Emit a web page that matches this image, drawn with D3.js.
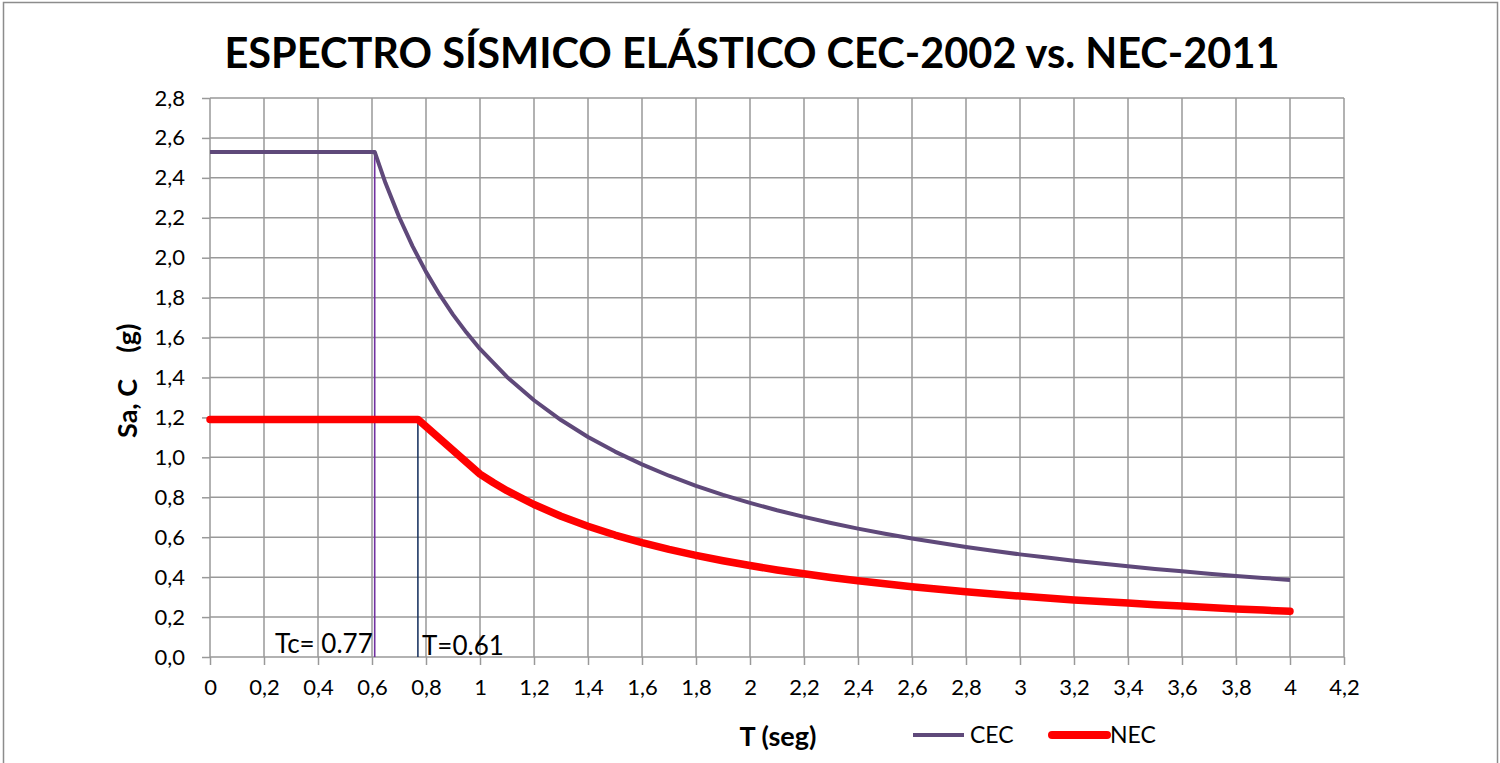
<!DOCTYPE html>
<html>
<head>
<meta charset="utf-8">
<script src="https://cdn.jsdelivr.net/npm/d3@7"></script>
<style>
  html, body { margin: 0; padding: 0; background: #fff; }
  svg { display: block; }
  text { font-family: Lato, "Open Sans", sans-serif; fill: #000; }
</style>
</head>
<body>
<svg id="chart" width="1500" height="763"></svg>
<script>
// Spectrum data: period T (s) and spectral acceleration (g)
const cecT  = [0, 0.61, 0.65, 0.7, 0.75, 0.8, 0.85, 0.9, 0.95, 1.0, 1.1, 1.2, 1.3, 1.4, 1.5, 1.6, 1.7, 1.8, 1.9, 2.0,
               2.1, 2.2, 2.3, 2.4, 2.5, 2.6, 2.7, 2.8, 2.9, 3.0, 3.1, 3.2, 3.3, 3.4, 3.5, 3.6, 3.7, 3.8, 3.9, 4.0];
const cecSa = [2.53, 2.53, 2.374, 2.205, 2.058, 1.929, 1.816, 1.715, 1.625, 1.543, 1.403, 1.286, 1.187, 1.102, 1.029, 0.965, 0.908, 0.857, 0.812, 0.772,
               0.735, 0.702, 0.671, 0.643, 0.617, 0.594, 0.572, 0.551, 0.532, 0.514, 0.498, 0.482, 0.468, 0.454, 0.441, 0.429, 0.417, 0.406, 0.396, 0.386];

const necT  = [0, 0.77, 1.0, 1.05, 1.1, 1.2, 1.3, 1.4, 1.5, 1.6, 1.7, 1.8, 1.9, 2.0, 2.1, 2.2, 2.3, 2.4, 2.5, 2.6, 2.7, 2.8,
               2.9, 3.0, 3.1, 3.2, 3.3, 3.4, 3.5, 3.6, 3.7, 3.8, 3.9, 4.0];
const necSa = [1.19, 1.19, 0.916, 0.873, 0.833, 0.764, 0.705, 0.655, 0.611, 0.573, 0.539, 0.509, 0.482, 0.458, 0.436, 0.417, 0.398, 0.382, 0.367, 0.352, 0.339, 0.327,
               0.316, 0.305, 0.296, 0.286, 0.278, 0.270, 0.262, 0.255, 0.248, 0.241, 0.235, 0.229];

// Corner periods marked with vertical lines
const markerT     = [0.61, 0.77];
const markerTop   = [2.53, 1.19];
const markerLabel = ["Tc= 0.77", "T=0.61"];

const xTicks = [0, 0.2, 0.4, 0.6, 0.8, 1, 1.2, 1.4, 1.6, 1.8, 2, 2.2, 2.4, 2.6, 2.8, 3, 3.2, 3.4, 3.6, 3.8, 4, 4.2];
const yTicks = [0, 0.2, 0.4, 0.6, 0.8, 1.0, 1.2, 1.4, 1.6, 1.8, 2.0, 2.2, 2.4, 2.6, 2.8];

const seriesNames  = ["CEC", "NEC"];
const seriesColors = ["#5F497A", "#FF0000"];

const svg = d3.select("#chart");
const W = 1500, H = 763;

// Outer chart frame
svg.append("rect").attr("x", 3.5).attr("y", 2.5).attr("width", W - 6).attr("height", H + 10)
  .attr("fill", "#fff").attr("stroke", "#8c8c8c").attr("stroke-width", 1.5);

const x = d3.scaleLinear().domain([0, 4.2]).range([210, 1344]);
const y = d3.scaleLinear().domain([0, 2.8]).range([657, 98]);

const fmtX = d => String(d).replace(".", ",");
const fmtY = d => d3.format(".1f")(d).replace(".", ",");

// Gridlines
const grid = svg.append("g").attr("stroke", "#999").attr("stroke-width", 1.5);
grid.selectAll(".vx").data(xTicks).join("line")
  .attr("x1", d => x(d)).attr("x2", d => x(d)).attr("y1", y(2.8)).attr("y2", y(0));
grid.selectAll(".hy").data(yTicks).join("line")
  .attr("x1", x(0)).attr("x2", x(4.2)).attr("y1", d => y(d)).attr("y2", d => y(d));

// Axes
const xAxis = d3.axisBottom(x).tickValues(xTicks).tickFormat(fmtX).tickSize(8).tickPadding(14);
const yAxis = d3.axisLeft(y).tickValues(yTicks).tickFormat(fmtY).tickSize(8).tickPadding(17);

const gx = svg.append("g").attr("transform", `translate(0,${y(0)})`).call(xAxis);
const gy = svg.append("g").attr("transform", `translate(${x(0)},0)`).call(yAxis);
[gx, gy].forEach(g => {
  g.select(".domain").remove();
  g.selectAll(".tick line").attr("stroke", "#999").attr("stroke-width", 1.5);
  g.selectAll(".tick text").attr("font-size", 22).attr("fill", "#000").style("font-family", "Lato, sans-serif");
});

// Vertical period markers
const markerColors = ["#7030A0", "#1F3864"];
svg.selectAll(".marker").data(markerT).join("line")
  .attr("x1", d => x(d)).attr("x2", d => x(d))
  .attr("y1", (d, i) => y(markerTop[i])).attr("y2", y(0))
  .attr("stroke", (d, i) => markerColors[i]).attr("stroke-width", 1.6);

// Spectrum curves
const line = d3.line().x(d => x(d[0])).y(d => y(d[1])).curve(d3.curveLinear);
const cecData = cecT.map((t, i) => [t, cecSa[i]]);
const necData = necT.map((t, i) => [t, necSa[i]]);

svg.append("path").datum(cecData).attr("d", line)
  .attr("fill", "none").attr("stroke", seriesColors[0]).attr("stroke-width", 4).attr("stroke-linejoin", "round");
svg.append("path").datum(necData).attr("d", line)
  .attr("fill", "none").attr("stroke", seriesColors[1]).attr("stroke-width", 7.5)
  .attr("stroke-linejoin", "round").attr("stroke-linecap", "round");

// Marker annotations
svg.append("text").attr("x", 275).attr("y", 653).attr("font-size", 26).text(markerLabel[0]);
svg.append("text").attr("x", 422).attr("y", 655).attr("font-size", 26).text(markerLabel[1]);

// Title
svg.append("text").attr("x", 752).attr("y", 68).attr("text-anchor", "middle")
  .attr("font-size", 41.5).attr("font-weight", "bold")
  .text("ESPECTRO SÍSMICO ELÁSTICO CEC-2002 vs. NEC-2011");

// Axis titles
svg.append("text").attr("x", 778).attr("y", 746).attr("text-anchor", "middle")
  .attr("font-size", 27).attr("font-weight", "bold").text("T (seg)");
svg.append("text").attr("transform", `translate(137,438) rotate(-90)`).attr("text-anchor", "start")
  .attr("font-size", 27).attr("font-weight", "bold").attr("xml:space", "preserve").text("Sa, C    (g)");

// Legend
const legX = [913, 1052], legW = [51, 55], legSW = [4, 8];
seriesNames.forEach((name, i) => {
  svg.append("line").attr("x1", legX[i]).attr("x2", legX[i] + legW[i]).attr("y1", 735).attr("y2", 735)
    .attr("stroke", seriesColors[i]).attr("stroke-width", legSW[i]).attr("stroke-linecap", i ? "round" : "butt");
  svg.append("text").attr("x", legX[i] + legW[i] + (i ? 3 : 6)).attr("y", 743).attr("font-size", 23).text(name);
});
</script>
</body>
</html>
